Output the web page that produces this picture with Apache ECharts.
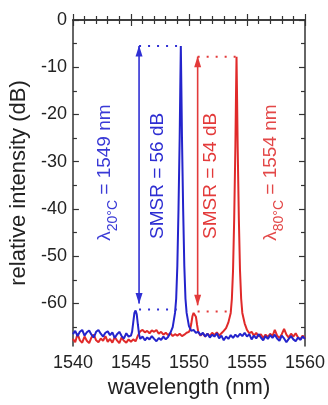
<!DOCTYPE html>
<html>
<head>
<meta charset="utf-8">
<script src="https://cdn.jsdelivr.net/npm/echarts@6/dist/echarts.min.js"></script>
<style>
html,body{margin:0;padding:0;background:#fff;}
#c{width:328px;height:405px;}
</style>
</head>
<body>
<div id="c"></div>
<script>
// ---- data ----
const xTicks = [1540, 1545, 1550, 1555, 1560];
const yMajorTicks = [-60, -50, -40, -30, -20, -10, 0];
const yMinorTicks = [-65, -55, -45, -35, -25, -15, -5];

const blueWl = [1540.0,1540.2,1540.4,1540.6,1540.8,1541.0,1541.2,1541.4,1541.6,1541.8,1542.0,1542.2,1542.4,1542.6,1542.8,1543.0,1543.2,1543.4,1543.6,1543.8,1544.0,1544.2,1544.4,1544.6,1544.8,1545.0,1545.1,1545.2,1545.3,1545.4,1545.5,1545.6,1545.7,1545.8,1546.0,1546.2,1546.4,1546.6,1546.8,1547.0,1547.2,1547.4,1547.6,1547.8,1548.0,1548.2,1548.4,1548.6,1548.8,1548.9,1549.0,1549.1,1549.2,1549.25,1549.3,1549.35,1549.4,1549.5,1549.6,1549.7,1549.8,1550.0,1550.2,1550.4,1550.6,1550.8,1551.0,1551.2,1551.4,1551.6,1551.8,1552.0,1552.2,1552.4,1552.6,1552.8,1553.0,1553.2,1553.4,1553.6,1553.8,1554.0,1554.2,1554.4,1554.6,1554.8,1555.0,1555.2,1555.4,1555.6,1555.8,1556.0,1556.2,1556.4,1556.6,1556.8,1557.0,1557.2,1557.4,1557.6,1557.8,1558.0,1558.2,1558.4,1558.6,1558.8,1559.0,1559.2,1559.4,1559.6,1559.8,1560.0];
const blueDb = [-66.5,-65.8,-66.9,-66.0,-65.6,-66.8,-66.1,-65.7,-66.6,-67.2,-66.0,-65.6,-66.4,-67.0,-66.2,-65.9,-66.7,-66.1,-67.3,-66.5,-66.0,-66.9,-67.4,-66.3,-67.0,-66.8,-66.0,-64.0,-62.0,-61.5,-62.3,-64.5,-66.5,-67.5,-67.0,-67.8,-67.2,-67.6,-66.9,-67.5,-68.0,-67.3,-67.7,-67.0,-67.6,-67.1,-66.2,-65.0,-62.0,-59.0,-52.0,-40.0,-25.0,-15.0,-5.5,-15.0,-25.0,-40.0,-52.0,-59.0,-62.0,-64.8,-65.8,-65.6,-66.2,-66.0,-66.7,-66.2,-67.0,-66.4,-67.2,-66.6,-67.0,-66.3,-67.4,-66.8,-67.8,-67.0,-67.5,-66.7,-67.3,-66.6,-67.1,-66.4,-66.9,-66.2,-67.0,-66.5,-67.6,-66.8,-67.4,-66.5,-67.2,-67.8,-66.9,-67.5,-66.7,-67.3,-66.6,-67.4,-67.9,-66.8,-67.4,-68.2,-67.5,-66.9,-67.6,-68.0,-67.2,-67.7,-67.0,-67.5];

const redWl = [1540.0,1540.2,1540.4,1540.6,1540.8,1541.0,1541.2,1541.4,1541.6,1541.8,1542.0,1542.2,1542.4,1542.6,1542.8,1543.0,1543.2,1543.4,1543.6,1543.8,1544.0,1544.2,1544.4,1544.6,1544.8,1545.0,1545.2,1545.4,1545.6,1545.8,1546.0,1546.2,1546.4,1546.6,1546.8,1547.0,1547.2,1547.4,1547.6,1547.8,1548.0,1548.2,1548.4,1548.6,1548.8,1549.0,1549.2,1549.4,1549.6,1549.8,1550.0,1550.1,1550.2,1550.3,1550.4,1550.5,1550.6,1550.7,1550.8,1551.0,1551.2,1551.4,1551.6,1551.8,1552.0,1552.2,1552.4,1552.6,1552.8,1553.0,1553.2,1553.4,1553.6,1553.7,1553.8,1553.9,1554.0,1554.05,1554.1,1554.15,1554.2,1554.3,1554.4,1554.5,1554.6,1554.8,1555.0,1555.2,1555.4,1555.6,1555.8,1556.0,1556.2,1556.4,1556.6,1556.8,1557.0,1557.2,1557.4,1557.6,1557.8,1558.0,1558.2,1558.4,1558.6,1558.8,1559.0,1559.2,1559.4,1559.6,1559.8,1560.0];
const redDb = [-67.5,-68.2,-66.4,-67.8,-68.3,-67.0,-67.9,-68.4,-67.2,-66.6,-67.8,-68.2,-67.4,-67.9,-66.9,-68.1,-67.5,-68.3,-67.1,-67.8,-68.4,-67.2,-67.9,-68.3,-67.6,-68.1,-67.6,-68.0,-66.8,-65.9,-65.6,-66.1,-65.8,-66.3,-65.7,-66.0,-65.6,-66.4,-66.0,-66.6,-66.2,-66.7,-66.3,-66.9,-66.5,-66.8,-66.4,-66.9,-66.6,-66.2,-66.0,-65.5,-64.3,-62.7,-62.0,-62.0,-62.8,-64.5,-66.0,-66.8,-66.3,-67.0,-66.4,-66.9,-66.2,-66.7,-66.1,-66.8,-66.3,-65.8,-65.2,-64.0,-62.0,-59.0,-53.0,-42.0,-27.0,-17.0,-7.8,-17.0,-27.0,-42.0,-53.0,-59.0,-62.0,-64.2,-65.6,-66.3,-66.0,-66.8,-66.2,-67.0,-66.5,-67.3,-66.6,-67.1,-66.4,-66.9,-65.6,-66.8,-67.3,-66.5,-65.4,-66.6,-67.2,-66.4,-67.0,-66.3,-67.2,-67.6,-66.8,-67.4];

// SMSR annotation values: arrow wavelength, peak level, side-mode level, dotted-line ends
const blueSmsr = {arrowX:1545.7, peakX:1549.3, top:-5.5, side:-61.3, sideEndX:1548.95};
const redSmsr  = {arrowX:1550.75, peakX:1554.1, top:-7.8, side:-61.7, sideEndX:1553.75};

const labels = [
  {text: 'λ{sub|20°C} = 1549 nm', color: '#3a3ad6', at: [1542.75, -32.3]},
  {text: 'SMSR = 56 dB', color: '#2e2ed2', at: [1547.3, -33.0]},
  {text: 'SMSR = 54 dB', color: '#e33a3a', at: [1551.9, -33.0]},
  {text: 'λ{sub|80°C} = 1554 nm', color: '#e34848', at: [1557.05, -32.3]}
];

const BLUE = '#2424cc', RED = '#e02a2a';
const FONT = 'Liberation Sans, Arial, sans-serif';

function pairs(xs, ys){ return xs.map((x,i)=>[x, ys[i]]); }

const chart = echarts.init(document.getElementById('c'), null, {renderer:'canvas'});

const axisColor = '#333';
const yBase = {type:'value', min:-69, max:0, gridIndex:0,
  splitLine:{show:false}, minorTick:{show:false}, minorSplitLine:{show:false}};

function smsrSeries(color, s){
  const dotted = {color, width:2, type:[2,7]};
  return [
    {type:'line', xAxisIndex:0, yAxisIndex:0, silent:true, z:3,
     data:[[s.arrowX, s.top], [s.peakX, s.top]], symbol:'none', lineStyle:dotted},
    {type:'line', xAxisIndex:0, yAxisIndex:0, silent:true, z:3,
     data:[[s.arrowX, s.side], [s.sideEndX, s.side]], symbol:'none', lineStyle:dotted},
    {type:'line', xAxisIndex:0, yAxisIndex:0, silent:true, z:3,
     data:[
       {value:[s.arrowX, s.top], symbolRotate:0, symbolOffset:[0,5]},
       {value:[s.arrowX, s.side + 1.3], symbolRotate:180, symbolOffset:[0,-5]}
     ],
     symbol:'triangle', symbolSize:[7,11], showSymbol:true, showAllSymbol:true,
     itemStyle:{color, borderWidth:0}, lineStyle:{color, width:1.6}}
  ];
}

const option = {
  animation: false,
  backgroundColor: '#fff',
  grid: {left:68, top:20, right:22, bottom:59, containLabel:false},
  xAxis: [
    {type:'value', min:1540, max:1560, interval:5, position:'bottom',
     name:'wavelength (nm)', nameLocation:'middle', nameGap:25,
     nameTextStyle:{fontSize:22, color:'#222', fontFamily:FONT},
     axisLine:{show:true, lineStyle:{color:axisColor, width:1.5}},
     axisTick:{show:true, inside:true, length:6, lineStyle:{color:axisColor, width:1.2}},
     minorTick:{show:true, splitNumber:5, length:4, lineStyle:{color:axisColor, width:1.2}},
     axisLabel:{fontSize:18, color:'#222', fontFamily:FONT, margin:8, formatter: v => String(v)},
     splitLine:{show:false}},
    {type:'value', min:1540, max:1560, interval:5, position:'top',
     axisLine:{show:true, lineStyle:{color:axisColor, width:1.5}},
     axisTick:{show:true, inside:true, length:6, lineStyle:{color:axisColor, width:1.2}},
     minorTick:{show:true, splitNumber:5, length:4, lineStyle:{color:axisColor, width:1.2}},
     axisLabel:{show:false}, splitLine:{show:false}}
  ],
  yAxis: [
    Object.assign({}, yBase, {position:'left',
      name:'relative intensity (dB)', nameLocation:'middle', nameGap:37,
      nameTextStyle:{fontSize:22, color:'#222', fontFamily:FONT},
      axisLine:{show:true, lineStyle:{color:axisColor, width:1.5}},
      axisTick:{show:true, inside:true, length:6, customValues:yMajorTicks, lineStyle:{color:axisColor, width:1.2}},
      axisLabel:{show:true, customValues:yMajorTicks, fontSize:18, color:'#222', fontFamily:FONT, margin:6}}),
    Object.assign({}, yBase, {position:'left',
      axisLine:{show:false},
      axisTick:{show:true, inside:true, length:4, customValues:yMinorTicks, lineStyle:{color:axisColor, width:1.2}},
      axisLabel:{show:false}}),
    Object.assign({}, yBase, {position:'right',
      axisLine:{show:true, lineStyle:{color:axisColor, width:1.5}},
      axisTick:{show:true, inside:true, length:6, customValues:yMajorTicks, lineStyle:{color:axisColor, width:1.2}},
      axisLabel:{show:false}}),
    Object.assign({}, yBase, {position:'right',
      axisLine:{show:false},
      axisTick:{show:true, inside:true, length:4, customValues:yMinorTicks, lineStyle:{color:axisColor, width:1.2}},
      axisLabel:{show:false}})
  ],
  series: [
    {type:'line', name:'80°C', xAxisIndex:0, yAxisIndex:0, data:pairs(redWl, redDb), z:2,
     showSymbol:false, symbol:'none', lineStyle:{color:RED, width:2}, itemStyle:{color:RED}},
    {type:'line', name:'20°C', xAxisIndex:0, yAxisIndex:0, data:pairs(blueWl, blueDb), z:2,
     showSymbol:false, symbol:'none', lineStyle:{color:BLUE, width:2}, itemStyle:{color:BLUE}}
  ].concat(smsrSeries('#e33a3a', redSmsr), smsrSeries('#3030d4', blueSmsr))
};
chart.setOption(option);

const graphics = labels.map(l => {
  const p = chart.convertToPixel({xAxisIndex:0, yAxisIndex:0}, l.at);
  return {
    type:'text', x:p[0], y:p[1], rotation:Math.PI/2, silent:true,
    style:{
      text:l.text, fill:l.color, fontSize:19, fontFamily:FONT,
      align:'center', verticalAlign:'middle', textAlign:'center', textVerticalAlign:'middle',
      rich:{sub:{fontSize:14, fill:l.color, fontFamily:FONT, verticalAlign:'bottom', lineHeight:30, padding:[8,0,0,0]}}
    }
  };
});
chart.setOption({graphic: graphics});
</script>
</body>
</html>
